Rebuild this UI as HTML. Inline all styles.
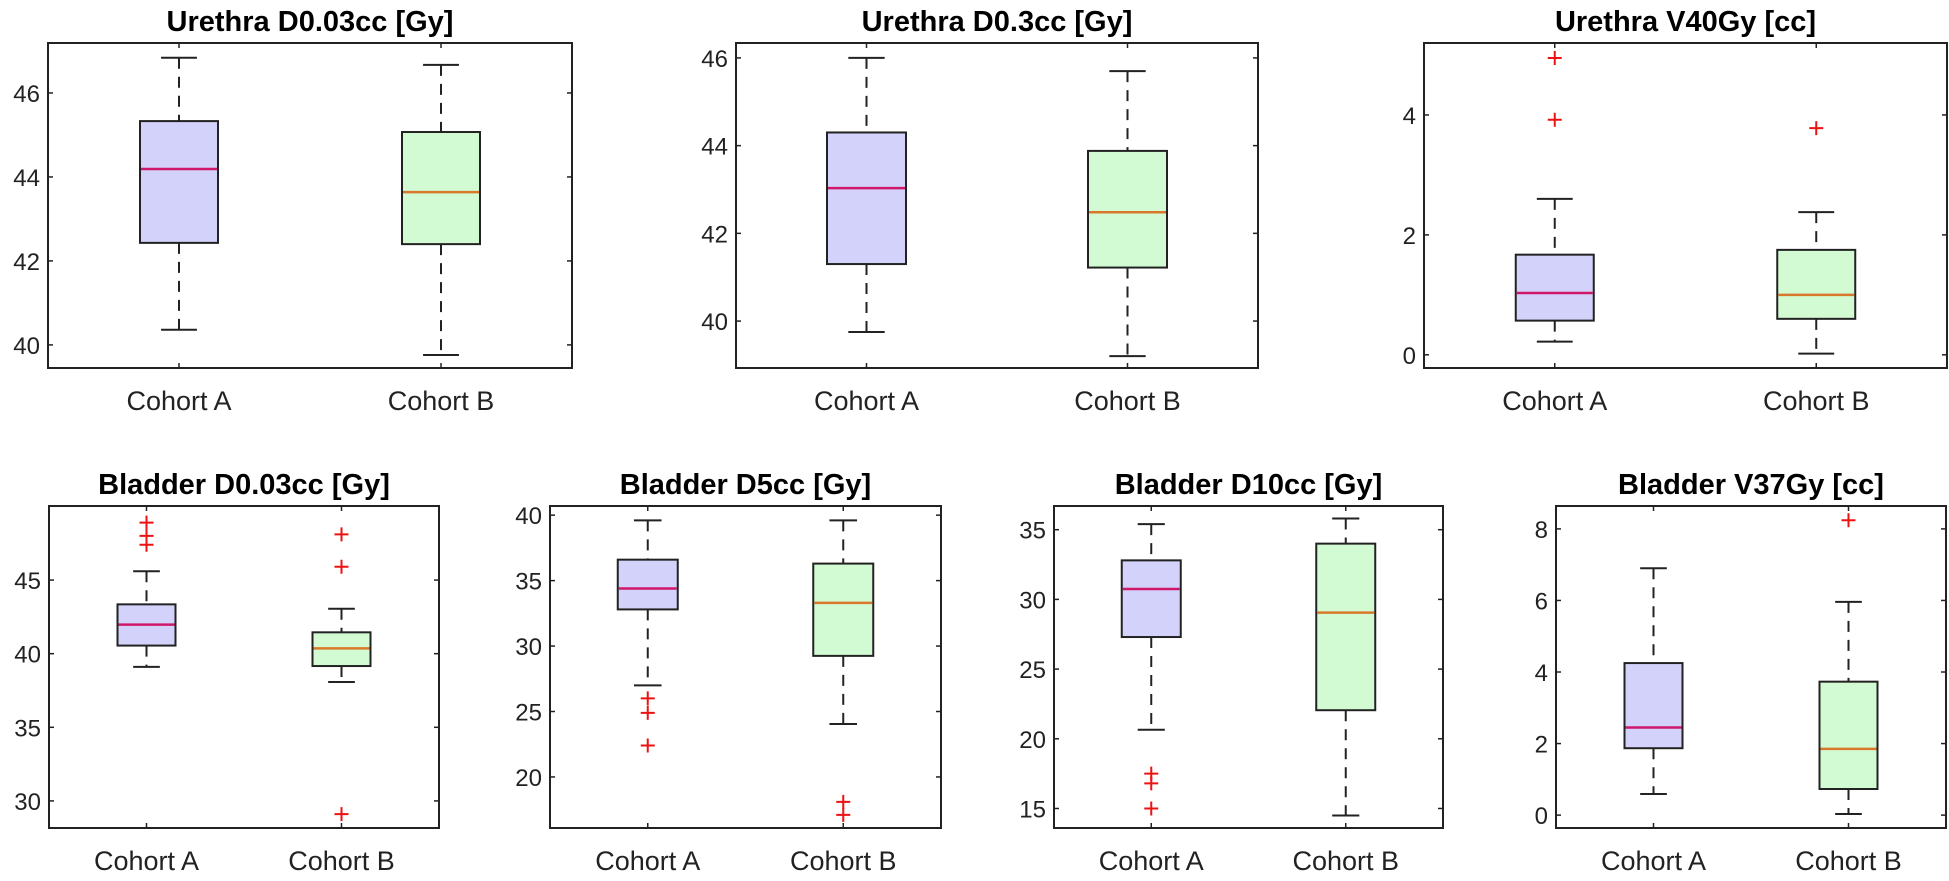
<!DOCTYPE html>
<html><head><meta charset="utf-8">
<style>
html,body{margin:0;padding:0;background:#fff;}
svg{display:block;font-family:"Liberation Sans",Arial,sans-serif;}
</style></head>
<body>
<svg id="fig" width="1949" height="881" viewBox="0 0 1949 881" xmlns="http://www.w3.org/2000/svg"></svg>
<script>
// ---- data (stats: [lowerWhisker, Q1, median, Q3, upperWhisker]) ----
const categories = ["Cohort A", "Cohort B"];
const titles = ["Urethra D0.03cc [Gy]","Urethra D0.3cc [Gy]","Urethra V40Gy [cc]","Bladder D0.03cc [Gy]","Bladder D5cc [Gy]","Bladder D10cc [Gy]","Bladder V37Gy [cc]"];
const urethraD003_A = [40.36, 42.43, 44.19, 45.33, 46.84];
const urethraD003_B = [39.76, 42.4, 43.64, 45.07, 46.67];
const urethraD03_A = [39.75, 41.3, 43.03, 44.3, 46.0];
const urethraD03_B = [39.2, 41.22, 42.48, 43.88, 45.7];
const urethraV40_A = [0.22, 0.57, 1.03, 1.67, 2.6];
const urethraV40_B = [0.02, 0.6, 1.0, 1.75, 2.38];
const bladderD003_A = [39.1, 40.55, 41.97, 43.35, 45.6];
const bladderD003_B = [38.08, 39.16, 40.36, 41.45, 43.05];
const bladderD5_A = [27.0, 32.8, 34.4, 36.6, 39.6];
const bladderD5_B = [24.05, 29.25, 33.3, 36.3, 39.6];
const bladderD10_A = [20.65, 27.3, 30.75, 32.8, 35.4];
const bladderD10_B = [14.5, 22.05, 29.05, 34.0, 35.8];
const bladderV37_A = [0.59, 1.87, 2.45, 4.25, 6.9];
const bladderV37_B = [0.03, 0.73, 1.85, 3.73, 5.96];
// outliers
const urethraD003_outA = [];
const urethraD003_outB = [];
const urethraD03_outA = [];
const urethraD03_outB = [];
const urethraV40_outA = [4.95, 3.92];
const urethraV40_outB = [3.78];
const bladderD003_outA = [48.9, 48.0, 47.4];
const bladderD003_outB = [48.1, 45.9, 29.1];
const bladderD5_outA = [26.0, 24.9, 22.4];
const bladderD5_outB = [18.1, 17.1];
const bladderD10_outA = [17.5, 16.8, 15.0];
const bladderD10_outB = [];
const bladderV37_outA = [];
const bladderV37_outB = [8.24];
// tick labels
const ticksUD003 = [40, 42, 44, 46];
const ticksUD03 = [40, 42, 44, 46];
const ticksUV40 = [0, 2, 4];
const ticksBD003 = [30, 35, 40, 45];
const ticksBD5 = [20, 25, 30, 35, 40];
const ticksBD10 = [15, 20, 25, 30, 35];
const ticksBV37 = [0, 2, 4, 6, 8];
// y-axis domains
const domUD003 = [39.45, 47.19];
const domUD03 = [38.93, 46.34];
const domUV40 = [-0.22, 5.2];
const domBD003 = [28.16, 50.03];
const domBD5 = [16.1, 40.7];
const domBD10 = [13.6, 36.7];
const domBV37 = [-0.36, 8.64];

// ---- layout ----
const panels = [
 {t:0, x0:48, x1:572, y0:43, y1:368, bw:78, dom:domUD003, ticks:ticksUD003, A:urethraD003_A, B:urethraD003_B, oA:urethraD003_outA, oB:urethraD003_outB, name:"urethra-d003"},
 {t:1, x0:736, x1:1258, y0:43, y1:368, bw:79, dom:domUD03, ticks:ticksUD03, A:urethraD03_A, B:urethraD03_B, oA:urethraD03_outA, oB:urethraD03_outB, name:"urethra-d03"},
 {t:2, x0:1424, x1:1947, y0:43, y1:368, bw:78, dom:domUV40, ticks:ticksUV40, A:urethraV40_A, B:urethraV40_B, oA:urethraV40_outA, oB:urethraV40_outB, name:"urethra-v40"},
 {t:3, x0:49, x1:439, y0:506, y1:828, bw:58, dom:domBD003, ticks:ticksBD003, A:bladderD003_A, B:bladderD003_B, oA:bladderD003_outA, oB:bladderD003_outB, name:"bladder-d003"},
 {t:4, x0:550, x1:941, y0:506, y1:828, bw:60, dom:domBD5, ticks:ticksBD5, A:bladderD5_A, B:bladderD5_B, oA:bladderD5_outA, oB:bladderD5_outB, name:"bladder-d5"},
 {t:5, x0:1054, x1:1443, y0:506, y1:828, bw:59, dom:domBD10, ticks:ticksBD10, A:bladderD10_A, B:bladderD10_B, oA:bladderD10_outA, oB:bladderD10_outB, name:"bladder-d10"},
 {t:6, x0:1556, x1:1946, y0:506, y1:828, bw:58, dom:domBV37, ticks:ticksBV37, A:bladderV37_A, B:bladderV37_B, oA:bladderV37_outA, oB:bladderV37_outB, name:"bladder-v37"}
];
const NS = "http://www.w3.org/2000/svg";
const svg = document.getElementById("fig");
function mk(tag, attrs, parent){
  const e = document.createElementNS(NS, tag);
  for (const k in attrs) e.setAttribute(k, attrs[k]);
  (parent||svg).appendChild(e);
  return e;
}
panels.forEach(p => {
  const g = mk("g", {});
  
  
  const yS = v => p.y1 - (v - p.dom[0]) / (p.dom[1] - p.dom[0]) * (p.y1 - p.y0);
  const w = p.x1 - p.x0;
  const xS = i => p.x0 + w * (i === 0 ? 0.25 : 0.75);
  // title
  const tt = mk("text", {x:(p.x0+p.x1)/2, y:p.y0-12, "text-anchor":"middle", "font-size":"29", "font-weight":"bold", fill:"#000"}, g);
  tt.textContent = titles[p.t];
  
  
  // frame
  const fr = mk("rect", {x:p.x0, y:p.y0, width:w, height:p.y1-p.y0, fill:"none", stroke:"#222", "stroke-width":2}, g);
  
  
  // y ticks
  p.ticks.forEach(v => {
    const y = yS(v);
    mk("line", {x1:p.x0, x2:p.x0+5, y1:y, y2:y, stroke:"#222", "stroke-width":1.5}, g);
    mk("line", {x1:p.x1, x2:p.x1-5, y1:y, y2:y, stroke:"#222", "stroke-width":1.5}, g);
    const tl = mk("text", {x:p.x0-8, y:y+9, "text-anchor":"end", "font-size":"24", fill:"#222"}, g);
    tl.textContent = v;
    
    
  });
  // boxes
  [p.A, p.B].forEach((s, i) => {
    const cx = xS(i);
    mk("line", {x1:cx, x2:cx, y1:p.y0, y2:p.y0+5, stroke:"#222", "stroke-width":1.5}, g);
    mk("line", {x1:cx, x2:cx, y1:p.y1, y2:p.y1-5, stroke:"#222", "stroke-width":1.5}, g);
    const xl = mk("text", {x:cx, y:p.y1+42, "text-anchor":"middle", "font-size":"27", fill:"#222"}, g);
    xl.textContent = categories[i];
    
    
    const bw = p.bw, cap = bw*0.46;
    const wh = mk("g", {stroke:"#222", "stroke-width":2}, g);
    
    
    mk("line", {x1:cx, x2:cx, y1:yS(s[4]), y2:yS(s[3]), "stroke-dasharray":"11,8"}, wh);
    mk("line", {x1:cx, x2:cx, y1:yS(s[1]), y2:yS(s[0]), "stroke-dasharray":"11,8"}, wh);
    mk("line", {x1:cx-cap/2, x2:cx+cap/2, y1:yS(s[4]), y2:yS(s[4])}, wh);
    mk("line", {x1:cx-cap/2, x2:cx+cap/2, y1:yS(s[0]), y2:yS(s[0])}, wh);
    const bx = mk("rect", {x:cx-bw/2, y:yS(s[3]), width:bw, height:yS(s[1])-yS(s[3]), fill:i===0?"#d2d2fb":"#d3fbd3", stroke:"#222", "stroke-width":2}, g);
    
    
    const md = mk("line", {x1:cx-bw/2+1, x2:cx+bw/2-1, y1:yS(s[2]), y2:yS(s[2]), stroke:i===0?"#d0186a":"#d8782a", "stroke-width":2.5}, g);
    
    
    (i===0?p.oA:p.oB).forEach(v => {
      const y = yS(v);
      const o = mk("path", {d:`M${cx-7},${y}H${cx+7}M${cx},${y-7}V${y+7}`, stroke:"#ee1111", "stroke-width":2, fill:"none"}, g);
      
      
    });
  });
});
</script>
</body></html>
